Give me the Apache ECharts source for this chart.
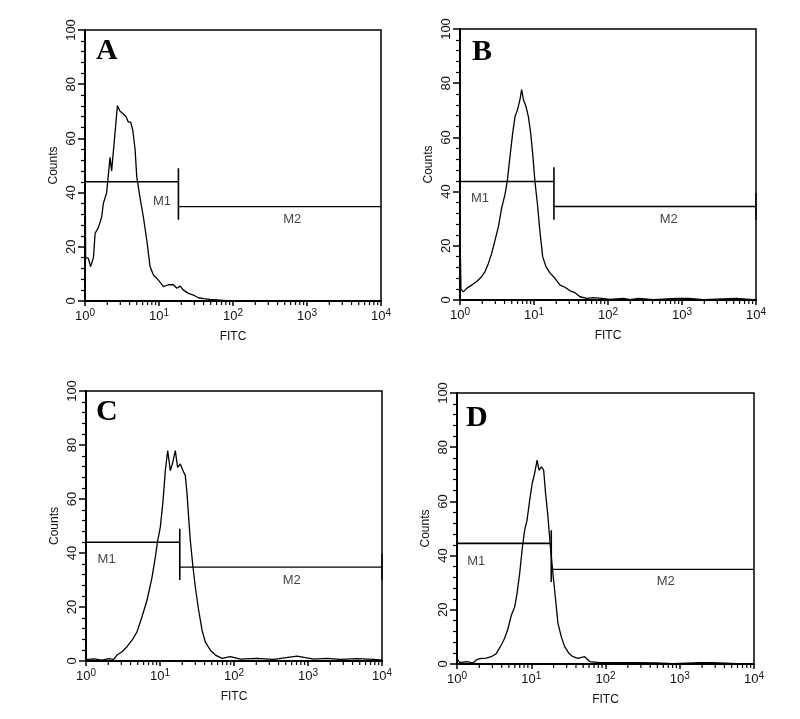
<!DOCTYPE html>
<html>
<head>
<meta charset="utf-8">
<script src="https://cdn.jsdelivr.net/npm/echarts@6/dist/echarts.min.js"></script>
<style>
html,body{margin:0;padding:0;background:#fff;}
#chart{width:800px;height:719px;}
</style>
</head>
<body>
<div id="chart"></div>
<script>
// ---------- DATA ----------
const panelLetters = ['A', 'B', 'C', 'D'];
const decadeTicks = [1, 10, 100, 1000, 10000];
const yTicks = [0, 20, 40, 60, 80, 100];

const fitcA = [1.0, 1.02, 1.11, 1.19, 1.30, 1.37, 1.51, 1.68, 1.77, 1.96, 2.18, 2.29, 2.47, 2.74, 2.98, 3.30, 3.59, 3.86, 4.15, 4.42, 4.75, 5.00, 5.55, 6.15, 6.83, 7.57, 8.41, 9.82, 11.5, 13.4, 15.7, 17.4, 19.3, 21.4, 25.0, 29.2, 34.1, 39.9, 49.1, 60.4, 82.5, 150, 1000, 10000];
const countsA = [58, 16, 15.7, 12.7, 16, 25, 27, 31, 36, 40, 53, 48, 58, 72, 70, 69, 68, 66, 66, 63, 56, 46, 38, 31, 22.5, 12.7, 9.6, 7.7, 5.3, 6, 6, 4.7, 5.5, 4, 2.8, 2.2, 1.2, 0.9, 0.6, 0.4, 0.1, 0, 0, 0];

const fitcB = [1.0, 1.03, 1.11, 1.23, 1.44, 1.68, 1.96, 2.18, 2.42, 2.68, 2.97, 3.30, 3.66, 4.06, 4.36, 4.74, 5.15, 5.54, 5.96, 6.47, 6.81, 7.18, 7.80, 8.39, 9.02, 9.60, 10.3, 11.1, 12.1, 13.1, 14.5, 16.5, 19.2, 22.5, 26.2, 30.7, 35.8, 41.9, 51.5, 63.4, 82.2, 106, 161, 200, 258, 410, 850, 1230, 1940, 5470, 10000];
const countsB = [26, 4, 3, 4.3, 5.5, 6.8, 8.6, 10.5, 13.5, 17.2, 22, 27, 34, 39, 44, 53, 61.6, 67.7, 70, 74, 77.6, 74, 71.4, 67.7, 61.6, 54, 43.7, 35.7, 24.6, 16, 12.3, 9.9, 8, 5.5, 4.7, 3.4, 2.7, 1.2, 0.6, 0.9, 0.6, 0.25, 0.6, 0.1, 0.6, 0.1, 0.6, 0.6, 0.1, 0.6, 0];

const fitcC = [1.0, 1.27, 1.64, 2.02, 2.37, 2.62, 3.07, 3.58, 4.19, 4.89, 5.71, 6.67, 7.80, 8.65, 9.30, 10.1, 11.0, 11.8, 12.7, 13.8, 15.0, 16.1, 17.3, 18.8, 20.5, 22.0, 23.2, 24.4, 25.7, 27.9, 30.0, 33.3, 37.0, 41.0, 47.9, 56.0, 68.9, 89.3, 122, 205, 344, 711, 1194, 1807, 2735, 4600, 7727, 10000];
const countsC = [0.5, 0.8, 0.3, 0.9, 0.6, 2.2, 3.4, 5.3, 7.7, 10.8, 16.4, 22.5, 31, 38.5, 44.6, 49.6, 59.4, 70.5, 77.9, 70.5, 74, 77.9, 71.7, 73, 70.5, 68.6, 61.9, 53, 44.6, 34.8, 27.4, 18.8, 11.4, 7, 4, 2.2, 1, 1.6, 0.7, 1.0, 0.6, 1.8, 0.7, 1.0, 0.6, 0.9, 0.6, 0.3];

const fitcD = [1.0, 1.09, 1.34, 1.64, 1.82, 2.02, 2.48, 2.90, 3.39, 3.95, 4.38, 4.86, 5.39, 5.98, 6.43, 6.98, 7.59, 8.15, 8.77, 9.52, 10.3, 11.1, 12.0, 12.7, 13.7, 14.7, 15.6, 16.8, 18.1, 19.6, 21.3, 22.9, 25.4, 28.2, 32.2, 36.5, 42.6, 52.4, 61.2, 83.4, 155, 260, 483, 811, 1854, 2805, 5780, 10000];
const countsD = [2, 0.5, 0.9, 0.4, 1.5, 2, 2.2, 2.7, 3.9, 7, 9.5, 13, 18, 21, 26, 33.4, 43, 49.4, 53, 60.4, 66.6, 70.3, 75.2, 71.5, 72.7, 71.5, 62.9, 54.3, 43.2, 33.4, 23.6, 15, 10, 6.4, 3.9, 2.7, 2.1, 2.7, 0.9, 0.5, 0.5, 0.5, 0.4, 0.1, 0.5, 0.5, 0.1, 0];

// gate markers (M1 / M2) per panel A..D
const gateSplit   = [18.3, 18.6, 18.5, 18.6];   // FITC value where M1 ends / M2 begins
const gateM1Level = [44, 43.7, 44, 44.5];       // counts level of M1 bar
const gateM2Level = [34.8, 34.5, 34.8, 34.9];   // counts level of M2 bar
const gateBarLow  = [30, 29.6, 30, 30.3];
const gateBarHigh = [49, 49, 49, 49.4];
const gateEndTick = [false, true, true, false];
const m1LabelPos  = [[11, 36.8], [1.86, 37.3], [1.9, 37.5], [1.82, 37.7]];
const m2LabelPos  = [[631, 30], [661, 29.6], [603, 30], [646, 30.3]];
const gateNames   = ['M1', 'M2'];

// ---------- LAYOUT ----------
const grids = [
  {left: 85, top: 30, width: 296, height: 271},
  {left: 460, top: 29, width: 296, height: 271},
  {left: 86, top: 391, width: 296, height: 270},
  {left: 457, top: 393, width: 297, height: 271}
];
const letterPos = [[96, 36], [472, 37], [96, 397], [466, 403]];

const fitcAll = [fitcA, fitcB, fitcC, fitcD];
const countsAll = [countsA, countsB, countsC, countsD];

const minorTicks = [];
for (let d = 0; d < decadeTicks.length - 1; d++) {
  for (let k = 2; k <= 9; k++) minorTicks.push([k * decadeTicks[d], 0]);
}

const FONT = 'Liberation Sans';
const option = {
  backgroundColor: '#fff',
  animation: false,
  title: [],
  grid: [],
  xAxis: [],
  yAxis: [],
  series: []
};

grids.forEach((g, i) => {
  option.grid.push(Object.assign({show: true, borderColor: '#000', borderWidth: 1.5, backgroundColor: 'transparent'}, g));
  option.title.push({
    text: panelLetters[i], left: letterPos[i][0], top: letterPos[i][1], padding: 0,
    textStyle: {fontFamily: 'Liberation Serif', fontWeight: 'bold', fontSize: 30, color: '#000'}
  });
  option.xAxis.push({
    type: 'log', logBase: 10, gridIndex: i, min: 1, max: 10000,
    axisLine: {show: true, lineStyle: {color: '#000', width: 2}},
    axisTick: {show: true, length: 5, lineStyle: {color: '#000', width: 1.5}},
    splitLine: {show: false},
    axisLabel: {
      margin: 7, color: '#111',
      formatter: v => '{b|10}{s|' + Math.round(Math.log10(v)) + '}',
      rich: {
        b: {fontSize: 13, fontFamily: FONT, color: '#111'},
        s: {fontSize: 10, fontFamily: FONT, color: '#111', verticalAlign: 'top', padding: [0, 0, 6, 0]}
      }
    },
    name: 'FITC', nameLocation: 'middle', nameGap: 30,
    nameTextStyle: {fontSize: 12, fontFamily: FONT, color: '#111'}
  });
  option.yAxis.push({
    type: 'value', gridIndex: i, min: 0, max: 100, interval: 20,
    axisLine: {show: true, lineStyle: {color: '#000', width: 2}},
    axisTick: {show: true, length: 7, lineStyle: {color: '#000', width: 1.5}},
    minorTick: {show: true, splitNumber: 5, length: 4, lineStyle: {color: '#000', width: 1.2}},
    splitLine: {show: false},
    minorSplitLine: {show: false},
    axisLabel: {rotate: 90, margin: 7, fontSize: 13, fontFamily: FONT, color: '#111'},
    name: 'Counts', nameLocation: 'middle', nameGap: 25, nameRotate: 90,
    nameTextStyle: {fontSize: 12, fontFamily: FONT, color: '#111'}
  });

  // histogram
  option.series.push({
    type: 'line', xAxisIndex: i, yAxisIndex: i, showSymbol: false, symbol: 'none',
    data: fitcAll[i].map((x, j) => [x, countsAll[i][j]]),
    lineStyle: {color: '#000', width: 1.3}, z: 3
  });
  // x minor ticks
  option.series.push({
    type: 'custom', xAxisIndex: i, yAxisIndex: i, clip: false, silent: true,
    data: minorTicks,
    renderItem: (params, api) => {
      const p = api.coord([api.value(0), 0]);
      return {type: 'line', shape: {x1: p[0], y1: p[1], x2: p[0], y2: p[1] + 4},
        style: {stroke: '#000', lineWidth: 1.2}};
    }
  });
  // gate M1
  const gl = {color: '#000', width: 1.6};
  option.series.push({type: 'line', xAxisIndex: i, yAxisIndex: i, symbol: 'none', lineStyle: gl,
    data: [[1, gateM1Level[i]], [gateSplit[i], gateM1Level[i]]], z: 4});
  option.series.push({type: 'line', xAxisIndex: i, yAxisIndex: i, symbol: 'none', lineStyle: gl,
    data: [[gateSplit[i], gateBarLow[i]], [gateSplit[i], gateBarHigh[i]]], z: 4});
  option.series.push({type: 'line', xAxisIndex: i, yAxisIndex: i, symbol: 'none', lineStyle: {color: '#000', width: 1.3},
    data: [[gateSplit[i], gateM2Level[i]], [10000, gateM2Level[i]]], z: 4});
  if (gateEndTick[i]) {
    option.series.push({type: 'line', xAxisIndex: i, yAxisIndex: i, symbol: 'none', lineStyle: {color: '#000', width: 1.3},
      data: [[10000, gateBarLow[i]], [10000, gateM2Level[i] + 5]], z: 4});
  }
  // gate labels
  option.series.push({
    type: 'scatter', xAxisIndex: i, yAxisIndex: i, symbolSize: 0, silent: true,
    data: [
      {name: gateNames[0], value: m1LabelPos[i]},
      {name: gateNames[1], value: m2LabelPos[i]}
    ],
    label: {show: true, position: 'inside', formatter: p => p.name,
      fontSize: 13, fontFamily: FONT, color: '#111'}
  });
});

const chart = echarts.init(document.getElementById('chart'), null, {renderer: 'canvas'});
chart.setOption(option);
</script>
</body>
</html>
